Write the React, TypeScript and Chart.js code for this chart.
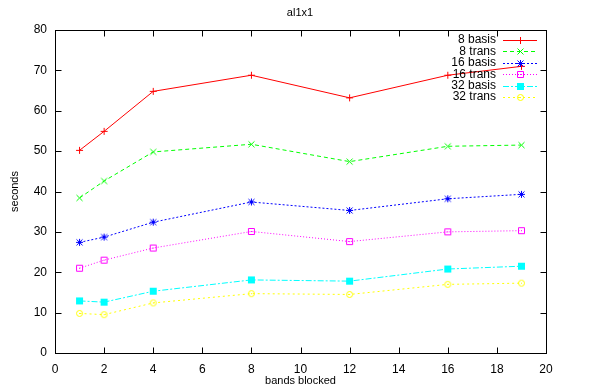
import React, { useEffect, useRef } from "react";
import { Chart, registerables } from "chart.js";

Chart.register(...registerables);

const bands = [1, 2, 4, 8, 12, 16, 19];
const basis8 = [50.2, 54.9, 64.8, 68.8, 63.2, 68.8, 71.0];
const trans8 = [38.4, 42.6, 49.8, 51.7, 47.4, 51.2, 51.5];
const basis16 = [27.4, 28.7, 32.4, 37.4, 35.3, 38.2, 39.3];
const trans16 = [21.0, 23.0, 26.0, 30.1, 27.6, 30.0, 30.3];
const basis32 = [12.9, 12.6, 15.3, 18.1, 17.8, 20.8, 21.5];
const trans32 = [9.8, 9.5, 12.4, 14.7, 14.5, 17.0, 17.3];

const seriesNames = ["8 basis", "8 trans", "16 basis", "16 trans", "32 basis", "32 trans"];
const seriesValues = [basis8, trans8, basis16, trans16, basis32, trans32];
const seriesColors = ["#ff0000", "#00ff00", "#0000ff", "#ff00ff", "#00ffff", "#ffff00"];
const markerKinds = ["plus", "cross", "star", "box", "fbox", "circle"];
const dashes: number[][] = [[], [4, 3], [2, 2], [1, 2], [6, 2, 2, 2], [2, 3]];

const xTicks = [0, 2, 4, 6, 8, 10, 12, 14, 16, 18, 20];
const yTicks = [0, 10, 20, 30, 40, 50, 60, 70, 80];

const FONT = "'Liberation Sans', Arial, sans-serif";

function makeMarker(kind: string, color: string): HTMLCanvasElement {
  const c = document.createElement("canvas");
  c.width = 9;
  c.height = 9;
  const g = c.getContext("2d")!;
  g.strokeStyle = color;
  g.fillStyle = color;
  g.lineWidth = 1;
  const m = 4.5;
  g.beginPath();
  if (kind === "plus" || kind === "star") {
    g.moveTo(m - 3.5, m);
    g.lineTo(m + 3.5, m);
    g.moveTo(m, m - 3.5);
    g.lineTo(m, m + 3.5);
  }
  if (kind === "cross" || kind === "star") {
    g.moveTo(m - 3, m - 3);
    g.lineTo(m + 3, m + 3);
    g.moveTo(m + 3, m - 3);
    g.lineTo(m - 3, m + 3);
  }
  if (kind === "box") {
    g.rect(m - 3, m - 3, 6, 6);
  }
  if (kind === "circle") {
    g.arc(m, m, 3, 0, Math.PI * 2);
  }
  g.stroke();
  if (kind === "fbox") {
    g.fillRect(1, 1, 7, 7);
  }
  if (kind === "box" || kind === "circle") {
    g.fillRect(4, 4, 1, 1);
  }
  return c;
}

export default function App() {
  const ref = useRef<HTMLCanvasElement | null>(null);

  useEffect(() => {
    document.body.style.margin = "0";
    const canvas = ref.current!;
    const markers = seriesNames.map((_, i) => makeMarker(markerKinds[i], seriesColors[i]));

    const datasets = seriesNames.map((name, i) => ({
      label: name,
      data: bands.map((b, j) => ({ x: b, y: seriesValues[i][j] })),
      borderColor: seriesColors[i],
      backgroundColor: seriesColors[i],
      borderWidth: 1,
      borderDash: dashes[i],
      pointStyle: markers[i],
      pointRadius: 3,
      tension: 0,
      fill: false,
    }));

    const framePlugin = {
      id: "frame",
      afterDraw(chart: any) {
        const ctx = chart.ctx;
        const a = chart.chartArea;
        const xs = chart.scales.x;
        const ys = chart.scales.y;
        ctx.save();
        ctx.strokeStyle = "#000";
        ctx.lineWidth = 1;
        const L = Math.round(a.left) + 0.5;
        const R = Math.round(a.right) + 0.5;
        const T = Math.round(a.top) + 0.5;
        const B = Math.round(a.bottom) + 0.5;
        ctx.strokeRect(L, T, R - L, B - T);
        ctx.beginPath();
        const tl = 6;
        xTicks.forEach((v) => {
          const px = Math.round(xs.getPixelForValue(v)) + 0.5;
          ctx.moveTo(px, B);
          ctx.lineTo(px, B - tl);
          ctx.moveTo(px, T);
          ctx.lineTo(px, T + tl);
        });
        yTicks.forEach((v) => {
          const py = Math.round(ys.getPixelForValue(v)) + 0.5;
          ctx.moveTo(L, py);
          ctx.lineTo(L + tl, py);
          ctx.moveTo(R, py);
          ctx.lineTo(R - tl, py);
        });
        ctx.stroke();

        // title and axis titles
        ctx.fillStyle = "#000";
        ctx.font = `11px ${FONT}`;
        ctx.textAlign = "center";
        ctx.textBaseline = "middle";
        ctx.fillText("al1x1", 300, 13);
        ctx.fillText("bands blocked", (a.left + a.right) / 2, 381);
        ctx.save();
        ctx.translate(15, (a.top + a.bottom) / 2);
        ctx.rotate(-Math.PI / 2);
        ctx.fillText("seconds", 0, 0);
        ctx.restore();

        // legend
        const rowY0 = 40;
        const rowH = 11.4;
        ctx.font = `12px ${FONT}`;
        ctx.textAlign = "right";
        seriesNames.forEach((name, i) => {
          const y = rowY0 + i * rowH;
          ctx.fillStyle = "#000";
          ctx.fillText(name, 496, y);
          ctx.strokeStyle = seriesColors[i];
          ctx.setLineDash(dashes[i]);
          ctx.beginPath();
          ctx.moveTo(503, Math.round(y) + 0.5);
          ctx.lineTo(537, Math.round(y) + 0.5);
          ctx.stroke();
          ctx.setLineDash([]);
          ctx.drawImage(markers[i], 520 - 4, Math.round(y) - 4);
        });
        ctx.restore();
      },
    };

    const chart = new Chart(canvas, {
      type: "line",
      data: { datasets },
      options: {
        animation: false,
        responsive: false,
        maintainAspectRatio: false,
        layout: { padding: { top: 30, right: 54, left: 0, bottom: 0 } },
        plugins: {
          legend: { display: false },
          title: { display: false },
          tooltip: { enabled: false },
        },
        scales: {
          x: {
            type: "linear",
            min: 0,
            max: 20,
            grid: { display: false, drawTicks: false },
            border: { display: false },
            afterFit: (s: any) => {
              s.height = 38;
            },
            afterBuildTicks: (s: any) => {
              s.ticks = xTicks.map((v) => ({ value: v }));
            },
            ticks: {
              padding: 9,
              color: "#000",
              font: { family: FONT, size: 12 },
              maxRotation: 0,
              autoSkip: false,
            },
          },
          y: {
            type: "linear",
            min: 0,
            max: 80,
            grid: { display: false, drawTicks: false },
            border: { display: false },
            afterFit: (s: any) => {
              s.width = 55;
            },
            afterBuildTicks: (s: any) => {
              s.ticks = yTicks.map((v) => ({ value: v }));
            },
            ticks: {
              padding: 8,
              color: "#000",
              font: { family: FONT, size: 12 },
              autoSkip: false,
            },
          },
        },
      },
      plugins: [framePlugin],
    });

    return () => chart.destroy();
  }, []);

  return <canvas ref={ref} width={600} height={391} style={{ display: "block" }} />;
}
